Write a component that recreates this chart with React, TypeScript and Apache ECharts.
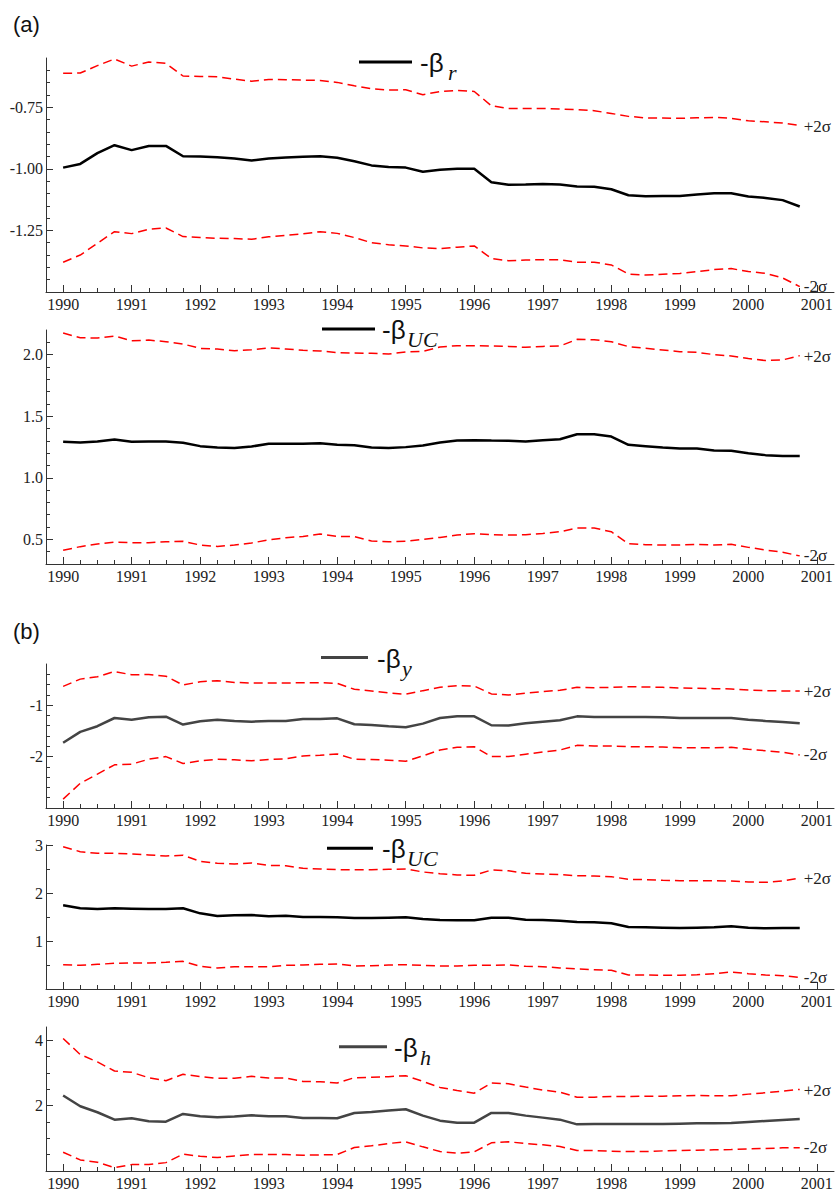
import React, { useEffect, useRef } from "react";
import * as echarts from "echarts";

// Quarterly observation dates
const QUARTERS = [
  1990, 1990.25, 1990.5, 1990.75, 1991, 1991.25, 1991.5, 1991.75, 1992, 1992.25, 1992.5, 1992.75,
  1993, 1993.25, 1993.5, 1993.75, 1994, 1994.25, 1994.5, 1994.75, 1995, 1995.25, 1995.5, 1995.75,
  1996, 1996.25, 1996.5, 1996.75, 1997, 1997.25, 1997.5, 1997.75, 1998, 1998.25, 1998.5, 1998.75,
  1999, 1999.25, 1999.5, 1999.75, 2000, 2000.25, 2000.5, 2000.75,
];
const YEAR_TICKS = [1990, 1991, 1992, 1993, 1994, 1995, 1996, 1997, 1998, 1999, 2000, 2001];
const QUARTER_TICKS = QUARTERS.filter((q) => q % 1 !== 0);

// Panel (a) top: -beta_r
const A_R_MID = [-0.995,-0.98,-0.936,-0.904,-0.924,-0.907,-0.907,-0.949,-0.95,-0.953,-0.958,-0.966,-0.958,-0.954,-0.951,-0.949,-0.955,-0.969,-0.986,-0.993,-0.995,
  -1.012,-1.004,-1.0,-1.0,-1.054,-1.065,-1.064,-1.062,-1.064,-1.072,-1.073,-1.083,-1.107,-1.111,-1.11,-1.11,-1.104,-1.099,-1.099,-1.112,-1.118,-1.127,-1.153];
const A_R_UP = [-0.612,-0.611,-0.581,-0.554,-0.583,-0.566,-0.572,-0.623,-0.625,-0.626,-0.636,-0.644,-0.637,-0.638,-0.64,-0.641,-0.649,-0.663,-0.675,-0.68,-0.679,
  -0.699,-0.686,-0.682,-0.686,-0.744,-0.755,-0.755,-0.755,-0.757,-0.76,-0.764,-0.775,-0.787,-0.793,-0.794,-0.795,-0.793,-0.791,-0.795,-0.805,-0.809,-0.814,-0.824];
const A_R_LO = [-1.379,-1.35,-1.302,-1.255,-1.263,-1.245,-1.24,-1.275,-1.279,-1.282,-1.283,-1.286,-1.276,-1.27,-1.264,-1.255,-1.262,-1.279,-1.3,-1.308,-1.313,
  -1.321,-1.324,-1.318,-1.313,-1.364,-1.373,-1.37,-1.369,-1.369,-1.379,-1.379,-1.39,-1.427,-1.431,-1.428,-1.425,-1.417,-1.409,-1.405,-1.417,-1.424,-1.443,-1.478];

// Panel (a) bottom: -beta_UC
const A_UC_MID = [1.292,1.286,1.294,1.311,1.292,1.294,1.294,1.284,1.257,1.246,1.241,1.254,1.276,1.276,1.276,1.281,1.268,1.265,1.246,1.241,1.249,
  1.262,1.286,1.302,1.305,1.302,1.3,1.294,1.305,1.313,1.354,1.354,1.335,1.268,1.257,1.246,1.238,1.238,1.222,1.219,1.2,1.184,1.176,1.176];
const A_UC_UP = [2.175,2.137,2.135,2.151,2.113,2.118,2.105,2.086,2.051,2.046,2.032,2.04,2.054,2.046,2.035,2.03,2.016,2.013,2.011,2.005,2.022,
  2.027,2.062,2.073,2.073,2.07,2.067,2.059,2.067,2.07,2.124,2.121,2.105,2.065,2.051,2.038,2.024,2.019,2.0,1.989,1.968,1.952,1.957,1.992];
const A_UC_LO = [0.411,0.441,0.462,0.478,0.473,0.473,0.481,0.484,0.454,0.443,0.454,0.47,0.497,0.513,0.524,0.543,0.524,0.522,0.486,0.481,0.484,
  0.5,0.516,0.535,0.546,0.538,0.535,0.538,0.548,0.562,0.592,0.592,0.562,0.465,0.457,0.454,0.454,0.46,0.454,0.46,0.435,0.414,0.395,0.366];

// Panel (b) 1: -beta_y
const B_Y_MID = [-1.731,-1.519,-1.41,-1.25,-1.282,-1.237,-1.224,-1.378,-1.314,-1.282,-1.308,-1.321,-1.308,-1.308,-1.269,-1.269,-1.256,-1.372,-1.385,-1.41,-1.429,
  -1.359,-1.25,-1.218,-1.218,-1.391,-1.397,-1.353,-1.321,-1.295,-1.218,-1.231,-1.231,-1.231,-1.231,-1.237,-1.25,-1.25,-1.25,-1.25,-1.282,-1.308,-1.327,-1.353];
const B_Y_UP = [-0.635,-0.494,-0.449,-0.346,-0.41,-0.404,-0.436,-0.609,-0.545,-0.526,-0.558,-0.571,-0.571,-0.571,-0.564,-0.564,-0.577,-0.692,-0.724,-0.763,-0.788,
  -0.718,-0.654,-0.622,-0.628,-0.782,-0.801,-0.769,-0.737,-0.712,-0.654,-0.66,-0.654,-0.641,-0.647,-0.654,-0.667,-0.673,-0.679,-0.686,-0.705,-0.718,-0.724,-0.724];
const B_Y_LO = [-2.827,-2.519,-2.34,-2.16,-2.147,-2.051,-2.0,-2.135,-2.083,-2.051,-2.064,-2.083,-2.058,-2.045,-1.987,-1.974,-1.949,-2.051,-2.058,-2.071,-2.09,
  -1.987,-1.872,-1.821,-1.808,-2.0,-2.0,-1.955,-1.91,-1.872,-1.782,-1.795,-1.795,-1.808,-1.808,-1.814,-1.827,-1.827,-1.827,-1.821,-1.859,-1.885,-1.917,-1.968];

// Panel (b) 2: -beta_UC
const B_UC_MID = [1.743,1.681,1.667,1.681,1.674,1.667,1.667,1.681,1.576,1.521,1.535,1.542,1.514,1.528,1.5,1.5,1.493,1.479,1.479,1.486,1.493,
  1.458,1.438,1.431,1.431,1.486,1.486,1.444,1.438,1.424,1.396,1.389,1.368,1.292,1.285,1.278,1.271,1.278,1.285,1.306,1.278,1.264,1.271,1.271];
const B_UC_UP = [2.965,2.861,2.826,2.826,2.813,2.792,2.771,2.785,2.66,2.618,2.604,2.625,2.576,2.569,2.514,2.5,2.486,2.486,2.486,2.493,2.5,
  2.438,2.403,2.375,2.368,2.479,2.465,2.41,2.396,2.382,2.361,2.354,2.34,2.285,2.278,2.264,2.257,2.257,2.257,2.25,2.229,2.222,2.25,2.313];
const B_UC_LO = [0.507,0.493,0.514,0.535,0.542,0.542,0.556,0.576,0.472,0.438,0.465,0.465,0.465,0.493,0.5,0.514,0.521,0.479,0.486,0.5,0.507,
  0.493,0.479,0.479,0.493,0.493,0.5,0.472,0.465,0.438,0.417,0.403,0.389,0.292,0.292,0.285,0.285,0.299,0.319,0.354,0.319,0.292,0.278,0.243];

// Panel (b) 3: -beta_h
const B_H_MID = [2.308,1.979,1.795,1.569,1.61,1.518,1.508,1.744,1.672,1.641,1.662,1.703,1.672,1.672,1.621,1.621,1.61,1.774,1.805,1.846,1.887,
  1.692,1.538,1.477,1.477,1.774,1.774,1.692,1.631,1.569,1.426,1.436,1.436,1.436,1.436,1.436,1.446,1.456,1.456,1.467,1.497,1.528,1.559,1.59];
const B_H_UP = [4.051,3.559,3.333,3.056,3.015,2.851,2.759,2.954,2.882,2.831,2.831,2.892,2.841,2.841,2.738,2.728,2.687,2.851,2.862,2.882,2.913,
  2.738,2.554,2.462,2.379,2.687,2.667,2.564,2.472,2.41,2.256,2.256,2.277,2.277,2.287,2.287,2.297,2.308,2.297,2.297,2.349,2.39,2.441,2.492];
const B_H_LO = [0.574,0.338,0.267,0.103,0.195,0.195,0.256,0.513,0.451,0.41,0.462,0.503,0.503,0.503,0.482,0.492,0.503,0.718,0.769,0.841,0.892,
  0.738,0.595,0.544,0.585,0.862,0.892,0.841,0.8,0.749,0.626,0.626,0.605,0.595,0.595,0.615,0.626,0.636,0.646,0.656,0.677,0.687,0.708,0.708];

// Y tick values
const P1_MAJOR = [-1.25, -1.0, -0.75];
const P1_MINOR = [-1.45,-1.4,-1.35,-1.3,-1.2,-1.15,-1.1,-1.05,-0.95,-0.9,-0.85,-0.8,-0.7,-0.65,-0.6];
const P2_MAJOR = [0.5, 1.0, 1.5, 2.0];
const P2_MINOR = [0.4,0.6,0.7,0.8,0.9,1.1,1.2,1.3,1.4,1.6,1.7,1.8,1.9,2.1];
const P3_MAJOR = [-2, -1];
const P3_MINOR = [-2.8,-2.6,-2.4,-2.2,-1.8,-1.6,-1.4,-1.2,-0.8,-0.6,-0.4];
const P4_MAJOR = [1, 2, 3];
const P4_MINOR = [0.5, 1.5, 2.5];
const P5_MAJOR = [2, 4];
const P5_MINOR = [0.5, 1, 1.5, 2.5, 3, 3.5];

const X_MIN = 1989.75;
const X_MAX = 2001.25;
const SERIF = "'Liberation Serif', 'DejaVu Serif', serif";
const SANS = "'Liberation Sans', Arial, sans-serif";
const AXIS_COLOR = "#333";
const LABEL_COLOR = "#222";
const TICK_FONT = 16;

const PANELS = [
  { top: 58, height: 234, yMin: -1.5, yMax: -0.55, major: P1_MAJOR, minor: P1_MINOR, dec: 2,
    mid: A_R_MID, up: A_R_UP, lo: A_R_LO, color: "#000", sub: "r", lx1: 359, lx2: 412, ly: 62, tx: 420, sx: 448 },
  { top: 330, height: 234, yMin: 0.3, yMax: 2.2, major: P2_MAJOR, minor: P2_MINOR, dec: 1,
    mid: A_UC_MID, up: A_UC_UP, lo: A_UC_LO, color: "#000", sub: "UC", lx1: 322, lx2: 375, ly: 329, tx: 382, sx: 407 },
  { top: 664, height: 144, yMin: -3, yMax: -0.2, major: P3_MAJOR, minor: P3_MINOR, dec: 0,
    mid: B_Y_MID, up: B_Y_UP, lo: B_Y_LO, color: "#444", sub: "y", lx1: 321, lx2: 368, ly: 657.5, tx: 377, sx: 402 },
  { top: 845, height: 144, yMin: 0, yMax: 3, major: P4_MAJOR, minor: P4_MINOR, dec: 0,
    mid: B_UC_MID, up: B_UC_UP, lo: B_UC_LO, color: "#000", sub: "UC", lx1: 327, lx2: 373, ly: 848.3, tx: 382, sx: 407 },
  { top: 1027, height: 144, yMin: 0, yMax: 4.4, major: P5_MAJOR, minor: P5_MINOR, dec: 0,
    mid: B_H_MID, up: B_H_UP, lo: B_H_LO, color: "#444", sub: "h", lx1: 339, lx2: 387, ly: 1046.7, tx: 394, sx: 420 },
];

function buildOption() {
  const grid: any[] = [];
  const xAxis: any[] = [];
  const yAxis: any[] = [];
  const series: any[] = [];
  const graphic: any[] = [];

  PANELS.forEach((p, i) => {
    grid.push({ left: 46, width: 788, top: p.top, height: p.height, containLabel: false });
    xAxis.push({
      type: "value", gridIndex: i, min: X_MIN, max: X_MAX, position: "bottom",
      axisLine: { show: true, onZero: false, lineStyle: { color: AXIS_COLOR, width: 1 } },
      splitLine: { show: false },
      axisTick: { show: true, inside: true, length: 7, customValues: YEAR_TICKS, lineStyle: { color: AXIS_COLOR } },
      axisLabel: { show: true, customValues: YEAR_TICKS, formatter: (v: number) => String(v), margin: 4,
        fontFamily: SERIF, fontSize: TICK_FONT, color: LABEL_COLOR },
    });
    xAxis.push({
      type: "value", gridIndex: i, min: X_MIN, max: X_MAX, position: "bottom", offset: 0,
      axisLine: { show: false, onZero: false },
      splitLine: { show: false },
      axisTick: { show: true, inside: true, length: 4, customValues: QUARTER_TICKS, lineStyle: { color: AXIS_COLOR } },
      axisLabel: { show: false },
    });
    yAxis.push({
      type: "value", gridIndex: i, min: p.yMin, max: p.yMax, position: "left",
      axisLine: { show: true, onZero: false, lineStyle: { color: AXIS_COLOR, width: 1 } },
      splitLine: { show: false },
      axisTick: { show: true, inside: true, length: 7, customValues: p.major, lineStyle: { color: AXIS_COLOR } },
      axisLabel: { show: true, customValues: p.major, formatter: (v: number) => v.toFixed(p.dec), margin: 3,
        fontFamily: SERIF, fontSize: TICK_FONT, color: LABEL_COLOR },
    });
    yAxis.push({
      type: "value", gridIndex: i, min: p.yMin, max: p.yMax, position: "left", offset: 0,
      axisLine: { show: false, onZero: false },
      splitLine: { show: false },
      axisTick: { show: true, inside: true, length: 4, customValues: p.minor, lineStyle: { color: AXIS_COLOR } },
      axisLabel: { show: false },
    });

    const xi = 2 * i;
    const yi = 2 * i;
    const toData = (arr: number[]) => QUARTERS.map((q, k) => [q, arr[k]]);
    const sigmaLabel = (txt: string, dy: number) => ({
      show: true, formatter: txt, distance: 4, color: LABEL_COLOR, fontFamily: SERIF, fontSize: 17, offset: [0, dy],
    });
    series.push({
      type: "line", xAxisIndex: xi, yAxisIndex: yi, data: toData(p.up), symbol: "none", z: 2,
      lineStyle: { color: "#ff0000", width: 1.5, type: [9, 5] }, endLabel: sigmaLabel("+2σ", 1),
    });
    series.push({
      type: "line", xAxisIndex: xi, yAxisIndex: yi, data: toData(p.lo), symbol: "none", z: 2,
      lineStyle: { color: "#ff0000", width: 1.5, type: [9, 5] }, endLabel: sigmaLabel("-2σ", 0),
    });
    series.push({
      type: "line", xAxisIndex: xi, yAxisIndex: yi, data: toData(p.mid), symbol: "none", z: 3,
      lineStyle: { color: p.color, width: 2.5 },
    });

    // legend
    graphic.push({ type: "line", shape: { x1: p.lx1, y1: p.ly, x2: p.lx2, y2: p.ly },
      style: { stroke: p.color, lineWidth: 3 }, z: 10 });
    graphic.push({ type: "text", x: p.tx, y: p.ly + 1, z: 10,
      style: { text: "-β", fontFamily: SANS, fontSize: 26, fill: "#111", verticalAlign: "middle", align: "left" } });
    graphic.push({ type: "text", x: p.sx, y: p.ly + 10.5, z: 10,
      style: { text: p.sub, fontFamily: SERIF, fontStyle: "italic", fontSize: 22, fill: "#111", verticalAlign: "middle", align: "left" } });
  });

  graphic.push({ type: "text", x: 13, y: 24, style: { text: "(a)", fontFamily: SANS, fontSize: 22, fill: "#111", verticalAlign: "middle" } });
  graphic.push({ type: "text", x: 13, y: 631, style: { text: "(b)", fontFamily: SANS, fontSize: 22, fill: "#111", verticalAlign: "middle" } });

  return {
    animation: false,
    backgroundColor: "#fff",
    grid, xAxis, yAxis, series, graphic,
  };
}

export default function App() {
  const ref = useRef<HTMLDivElement>(null);
  useEffect(() => {
    document.body.style.margin = "0";
    if (!ref.current) return;
    const chart = echarts.init(ref.current, null, { renderer: "svg" });
    chart.setOption(buildOption() as any);
    return () => chart.dispose();
  }, []);
  return <div ref={ref} style={{ width: 838, height: 1192 }} />;
}
